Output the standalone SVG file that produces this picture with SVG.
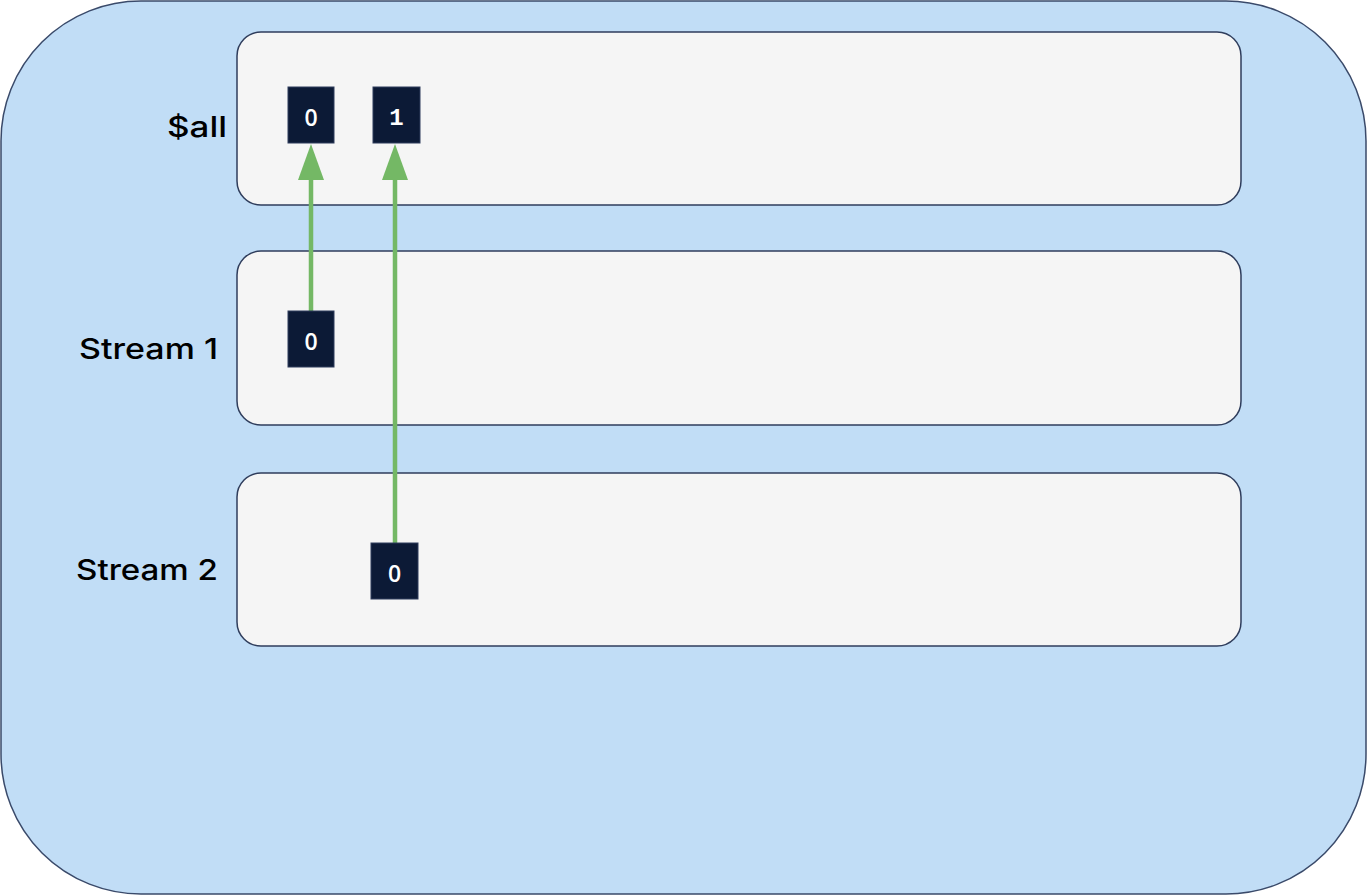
<svg xmlns="http://www.w3.org/2000/svg" width="1367" height="895" viewBox="0 0 1367 895">
<style>
.lane{fill:#f5f5f5;stroke:#2f3d5c;stroke-width:1.5}
.lbl{font-family:Inter,"Open Sans",sans-serif;font-weight:500;font-size:29px;fill:#000;text-anchor:end}
.box{fill:#0c1a36;stroke:#2f3d5c;stroke-width:1}
.num{font-family:"Liberation Mono","DejaVu Sans Mono",monospace;font-weight:bold;font-size:24px;fill:#fff;text-anchor:middle}
.zero{font-family:"Open Sans","Noto Sans",sans-serif;font-weight:600;font-size:23px;fill:#fff;text-anchor:middle}
.conn{stroke:#74b865;stroke-width:4.5;fill:none}
</style>
<rect x="1" y="1" width="1365" height="893" rx="140" ry="140" fill="#c1ddf6" stroke="#3a4a6a" stroke-width="1.5"/>
<g id="lane-all"><rect class="lane" x="237" y="32" width="1004" height="173" rx="24"/><text class="lbl" x="227" y="137" textLength="60" lengthAdjust="spacingAndGlyphs">$all</text></g>
<g id="lane-s1"><rect class="lane" x="237" y="251" width="1004" height="174" rx="24"/><text class="lbl" x="218" y="359" textLength="139" lengthAdjust="spacingAndGlyphs">Stream 1</text></g>
<g id="lane-s2"><rect class="lane" x="237" y="473" width="1004" height="173" rx="24"/><text class="lbl" x="218" y="580" textLength="142" lengthAdjust="spacingAndGlyphs">Stream 2</text></g>
<g id="connectors">
<line class="conn" x1="311" y1="311" x2="311" y2="176"/>
<path d="M298,180 L311,144 L324,180 Z" fill="#74b865"/>
<line class="conn" x1="395" y1="543" x2="395" y2="176"/>
<path d="M382,180 L395,144 L408,180 Z" fill="#74b865"/>
</g>
<g id="all-0"><rect class="box" x="288" y="87" width="46" height="56"/><text class="zero" x="311" y="126">0</text></g>
<g id="all-1"><rect class="box" x="373" y="87" width="47" height="56"/><text class="num" x="396.5" y="125">1</text></g>
<g id="s1-0"><rect class="box" x="288" y="311" width="46" height="56"/><text class="zero" x="311" y="350">0</text></g>
<g id="s2-0"><rect class="box" x="371" y="543" width="47" height="56"/><text class="zero" x="394.5" y="582">0</text></g>
</svg>
